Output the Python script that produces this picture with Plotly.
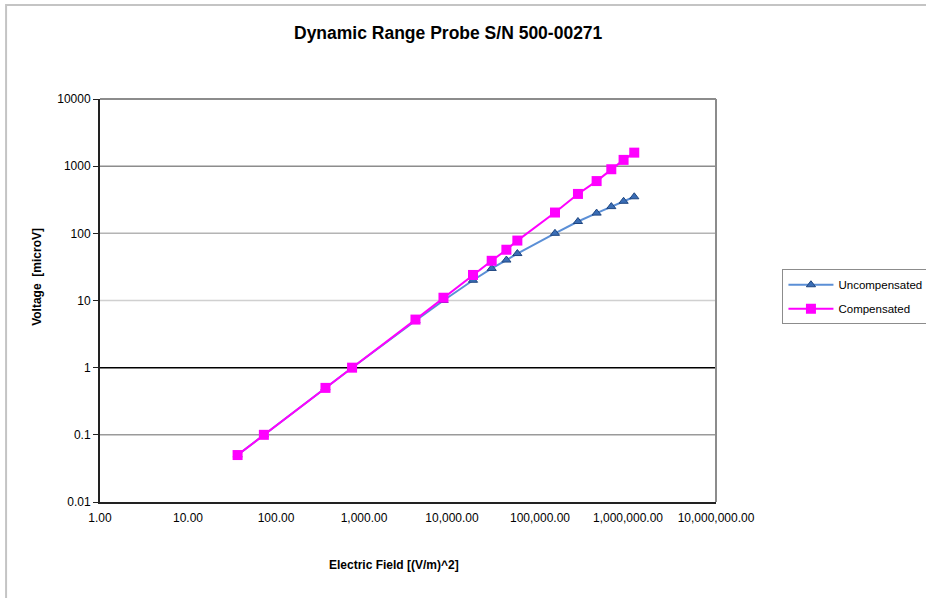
import plotly.graph_objects as go

# ---- data ----
field = [36.6, 72.8, 365, 732, 3845, 8000, 17330, 28250, 41500, 55300,
         148000, 270000, 440000, 646000, 891000, 1178000]
uncompensated = [0.05, 0.1, 0.5, 1, 5, 10, 20, 30, 40, 50,
                 100, 150, 200, 250, 300, 350]
compensated = [0.05, 0.1, 0.5, 1, 5.2, 11, 24, 39, 57, 78,
               204, 386, 600, 900, 1240, 1590]

x_tickvals = [1, 10, 100, 1000, 10000, 100000, 1000000, 10000000]
x_ticktext = ["1.00", "10.00", "100.00", "1,000.00", "10,000.00",
              "100,000.00", "1,000,000.00", "10,000,000.00"]
y_tickvals = [0.01, 0.1, 1, 10, 100, 1000, 10000]
y_ticktext = ["0.01", "0.1", "1", "10", "100", "1000", "10000"]
grid_colors = {0.1: "#9a9a9a", 1: "#000000", 10: "#d0d0d0", 100: "#b4b4b4", 1000: "#8c8c8c"}

FONT = "Liberation Sans, Arial, sans-serif"

W, H = 926, 598
L, R, T, B = 100, 716.5, 99, 502.5
pw, ph = R - L, B - T


def px(x):  # page pixel -> paper
    return (x - L) / pw


def py(y):
    return (B - y) / ph


fig = go.Figure()
fig.add_trace(go.Scatter(
    x=field, y=uncompensated, name="Uncompensated", mode="lines+markers",
    line=dict(color="#5b8fd6", width=2),
    marker=dict(symbol="triangle-up", size=8, color="#3a6db5",
                line=dict(color="#1f4680", width=1)),
    legendgroup="a",
))
fig.add_trace(go.Scatter(
    x=field, y=compensated, name="Compensated", mode="lines+markers",
    line=dict(color="#ff00ff", width=2),
    marker=dict(symbol="square", size=10, color="#ff00ff"),
    legendgroup="b",
))

shapes = []
for v, c in grid_colors.items():
    shapes.append(dict(type="line", xref="paper", yref="y", x0=0, x1=1, y0=v, y1=v,
                       line=dict(color=c, width=1.5), layer="below"))
shapes.append(dict(type="line", xref="paper", yref="paper", x0=0, x1=1, y0=1, y1=1,
                   line=dict(color="#8c8c8c", width=2)))
shapes.append(dict(type="line", xref="paper", yref="paper", x0=1, x1=1, y0=0, y1=1,
                   line=dict(color="#8c8c8c", width=2)))
shapes.append(dict(type="rect", xref="paper", yref="paper",
                   x0=px(6), x1=px(940), y0=py(610), y1=py(5),
                   line=dict(color="#c4c4c4", width=2)))

annotations = [
    dict(text="<b>Dynamic Range Probe S/N 500-00271</b>", xref="paper", yref="paper",
         x=px(449), y=py(33), xanchor="center", yanchor="middle", showarrow=False,
         font=dict(family=FONT, size=17.5, color="#000000")),
    dict(text="<b>Electric Field [(V/m)^2]</b>", xref="paper", yref="paper",
         x=px(394), y=py(566), xanchor="center", yanchor="middle", showarrow=False,
         font=dict(family=FONT, size=12, color="#000000")),
    dict(text="<b>Voltage\u00a0 [microV]</b>", xref="paper", yref="paper",
         x=px(37), y=py(277), xanchor="center", yanchor="middle", showarrow=False,
         textangle=-90, font=dict(family=FONT, size=12, color="#000000")),
]

fig.update_layout(
    width=W, height=H,
    margin=dict(l=L, r=W - R, t=T, b=H - B, autoexpand=False),
    paper_bgcolor="white", plot_bgcolor="white",
    font=dict(family=FONT, size=12, color="#000000"),
    showlegend=True,
    legend=dict(x=px(783), y=py(297), xanchor="left", yanchor="middle",
                bgcolor="white", bordercolor="#8c8c8c", borderwidth=1,
                font=dict(family=FONT, size=11.5, color="#000000"),
                itemwidth=45,
                traceorder="grouped", tracegroupgap=5),
    shapes=shapes,
    annotations=annotations,
)
fig.update_xaxes(type="log", range=[0, 7], tickvals=x_tickvals, ticktext=x_ticktext,
                 showgrid=False, zeroline=False, showline=True, linecolor="#222222",
                 linewidth=2, ticks="", ticklabelstandoff=4,
                 tickfont=dict(family=FONT, size=12))
fig.update_yaxes(type="log", range=[-2, 4], tickvals=y_tickvals, ticktext=y_ticktext,
                 showgrid=False, zeroline=False, showline=True, linecolor="#222222",
                 linewidth=2, ticks="outside", ticklen=5, tickcolor="#222222",
                 tickfont=dict(family=FONT, size=12))

fig.write_html("out.html",
               config={"displayModeBar": False},
               post_script="document.body.style.margin='0px';document.body.style.overflow='hidden';")
